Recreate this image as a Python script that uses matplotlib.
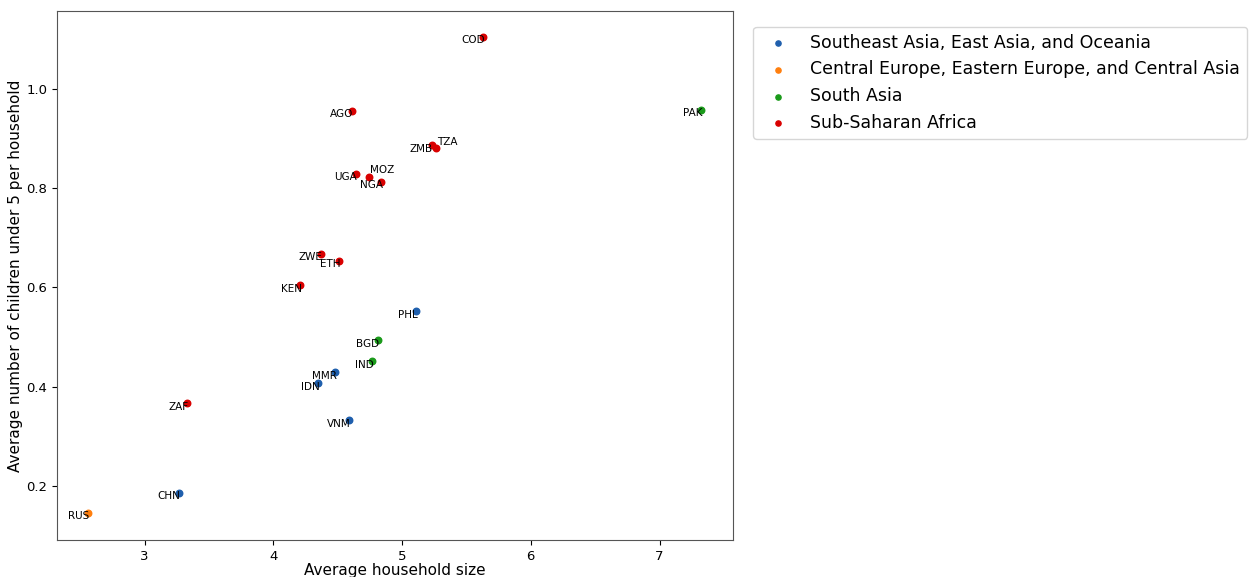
import matplotlib.pyplot as plt

# household size vs children under 5, by country
countries = ['COD', 'PAK', 'AGO', 'ZMB', 'TZA', 'UGA', 'MOZ', 'NGA', 'ZWE', 'ETH',
             'KEN', 'PHL', 'BGD', 'IND', 'MMR', 'IDN', 'VNM', 'ZAF', 'CHN', 'RUS']
household_size = [5.63, 7.32, 4.61, 5.23, 5.26, 4.64, 4.74, 4.84, 4.37, 4.51,
                  4.21, 5.11, 4.81, 4.77, 4.48, 4.35, 4.59, 3.33, 3.27, 2.56]
children_u5 = [1.105, 0.958, 0.956, 0.887, 0.881, 0.829, 0.823, 0.813, 0.668, 0.654,
               0.604, 0.552, 0.493, 0.451, 0.429, 0.407, 0.333, 0.367, 0.186, 0.146]
region = ['SSA', 'SA', 'SSA', 'SSA', 'SSA', 'SSA', 'SSA', 'SSA', 'SSA', 'SSA',
          'SSA', 'SEA', 'SA', 'SA', 'SEA', 'SEA', 'SEA', 'SSA', 'SEA', 'CEE']

regions = ['SEA', 'CEE', 'SA', 'SSA']
region_names = ['Southeast Asia, East Asia, and Oceania',
                'Central Europe, Eastern Europe, and Central Asia',
                'South Asia',
                'Sub-Saharan Africa']
colors = ['#1f5fad', '#ff7f0e', '#1a9a1a', '#d90000']

# labels that sit to the right of their point
right_labels = {'MOZ', 'TZA'}

fig = plt.figure(figsize=(12.55, 5.77), dpi=100)
ax = fig.add_axes([0.0454, 0.0641, 0.5386, 0.917])

for r, name, c in zip(regions, region_names, colors):
    xs = [x for x, g in zip(household_size, region) if g == r]
    ys = [y for y, g in zip(children_u5, region) if g == r]
    ax.scatter(xs, ys, s=22, color=c, label=name, zorder=3)

for lab, x, y in zip(countries, household_size, children_u5):
    if lab in right_labels:
        ax.annotate(lab, (x, y), xytext=(1, 1), textcoords='offset points',
                    ha='left', va='bottom', fontsize=7.5)
    else:
        ax.annotate(lab, (x, y), xytext=(1, 1), textcoords='offset points',
                    ha='right', va='top', fontsize=7.5)

ax.set_xlim(2.32, 7.57)
ax.set_ylim(0.091, 1.157)
ax.set_xticks([3, 4, 5, 6, 7])
ax.set_yticks([0.2, 0.4, 0.6, 0.8, 1.0])
ax.tick_params(labelsize=9.5)
ax.set_xlabel('Average household size', fontsize=11, labelpad=0)
ax.set_ylabel('Average number of children under 5 per household', fontsize=11, labelpad=2)
for sp in ax.spines.values():
    sp.set_color('#555555')

ax.legend(loc='upper left', bbox_to_anchor=(1.03, 0.97), fontsize=12.5,
          markerscale=0.8, handletextpad=0.9, borderaxespad=0)

fig.savefig('out.png', dpi=100)
